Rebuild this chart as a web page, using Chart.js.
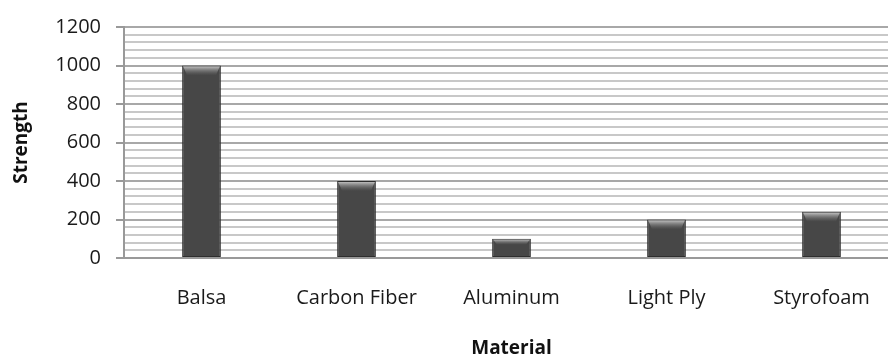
<!DOCTYPE html>
<html>
<head>
<meta charset="utf-8">
<script src="https://cdn.jsdelivr.net/npm/chart.js@4/dist/chart.umd.min.js"></script>
<style>
  html, body { margin: 0; padding: 0; background: #fff; overflow: hidden; }
  #wrap { width: 900px; height: 360px; position: relative; }
</style>
</head>
<body>
<div id="wrap"><canvas id="chart"></canvas></div>
<script>
// Material strength comparison
const materials = ['Balsa', 'Carbon Fiber', 'Aluminum', 'Light Ply', 'Styrofoam'];
const strength = [1000, 400, 100, 200, 240];
const yTickLabels = [0, 200, 400, 600, 800, 1000, 1200];

const FONT = '"Open Sans", "DejaVu Sans", sans-serif';

// Shaded column fill: darker edges, slightly lighter centre
function barFill(ctx) {
  const el = ctx.element;
  const c = ctx.chart.ctx;
  if (!el || el.x === undefined || !isFinite(el.x)) return '#474747';
  const half = (el.width || 39) / 2;
  const g = c.createLinearGradient(el.x - half, 0, el.x + half, 0);
  g.addColorStop(0, '#363636');
  g.addColorStop(0.5, '#545454');
  g.addColorStop(1, '#363636');
  return g;
}

// Light bevel on top of each column
const topBevel = {
  id: 'topBevel',
  afterDatasetsDraw(chart) {
    const c = chart.ctx;
    chart.getDatasetMeta(0).data.forEach(bar => {
      const half = bar.width / 2;
      const top = bar.y;
      const h = Math.min(10, (bar.base - bar.y) / 3);
      c.save();
      const g = c.createLinearGradient(0, top, 0, top + h);
      g.addColorStop(0, 'rgba(220,220,220,0.95)');
      g.addColorStop(1, 'rgba(120,120,120,0)');
      c.fillStyle = g;
      c.beginPath();
      c.moveTo(bar.x - half + 1, top + 1);
      c.lineTo(bar.x + half - 1, top + 1);
      c.lineTo(bar.x + half - 5, top + h);
      c.lineTo(bar.x - half + 5, top + h);
      c.closePath();
      c.fill();
      c.restore();
    });
  }
};

new Chart(document.getElementById('chart'), {
  type: 'bar',
  data: {
    labels: materials,
    datasets: [{
      data: strength,
      backgroundColor: barFill,
      borderColor: '#2e2e2e',
      borderWidth: 1,
      borderSkipped: false,
      categoryPercentage: 1,
      barPercentage: 0.25
    }]
  },
  options: {
    responsive: true,
    maintainAspectRatio: false,
    animation: false,
    layout: { padding: { top: 24, right: 1, left: 0, bottom: 0 } },
    plugins: { legend: { display: false }, tooltip: { enabled: false } },
    scales: {
      y: {
        min: 0,
        max: 1200,
        afterBuildTicks(scale) {
          const t = [];
          for (let v = 0; v <= 1200; v += 40) t.push({ value: v });
          scale.ticks = t;
        },
        afterFit(scale) { scale.width = 124; },
        ticks: {
          color: '#1a1a1a',
          font: { family: FONT, size: 20 },
          padding: 15,
          autoSkip: false,
          callback: v => (yTickLabels.includes(v) ? String(v) : '')
        },
        grid: {
          drawTicks: true,
          tickLength: 8,
          lineWidth: 2,
          color: c => (c.tick && c.tick.value % 200 === 0 ? '#a8a8a8' : '#c8c8c8'),
          tickColor: c => (c.tick && c.tick.value % 200 === 0 ? '#999' : 'rgba(0,0,0,0)')
        },
        border: { display: true, color: '#999', width: 2 },
        title: {
          display: true,
          text: 'Strength',
          color: '#111',
          font: { family: FONT, size: 19, weight: 'bold' },
          padding: { top: 10, bottom: 0 }
        }
      },
      x: {
        afterFit(scale) { scale.height = 102; },
        ticks: {
          color: '#1a1a1a',
          font: { family: FONT, size: 20 },
          padding: 28,
          maxRotation: 0
        },
        grid: { display: false, drawTicks: false },
        border: { display: true, color: '#999', width: 2 },
        title: {
          display: true,
          text: 'Material',
          color: '#111',
          font: { family: FONT, size: 19, weight: 'bold' },
          padding: { top: 15, bottom: 0 }
        }
      }
    }
  },
  plugins: [topBevel]
});
</script>
</body>
</html>
